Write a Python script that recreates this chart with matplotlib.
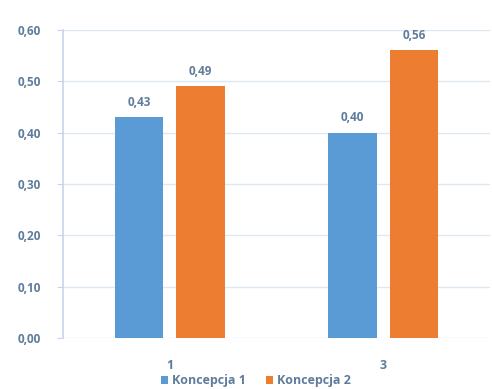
import matplotlib
matplotlib.use("Agg")
import matplotlib.pyplot as plt
import numpy as np

categories = ["1", "3"]
series_names = ["Koncepcja 1", "Koncepcja 2"]
koncepcja1 = [0.43, 0.40]
koncepcja2 = [0.49, 0.56]
yticks = [0.0, 0.1, 0.2, 0.3, 0.4, 0.5, 0.6]

colors = ["#5b9bd5", "#ed7d31"]
text_color = "#5f7c9c"
grid_color = "#dde8f3"

plt.rcParams['font.family'] = ['Open Sans', 'DejaVu Sans']

fig = plt.figure(figsize=(4.92, 3.89), dpi=100)
ax = fig.add_axes([0.128, 0.131, 0.868, 0.792])

x = np.arange(len(categories))
w = 0.225
off = 0.144
b1 = ax.bar(x - off, koncepcja1, w, color=colors[0], label=series_names[0], zorder=3)
b2 = ax.bar(x + off, koncepcja2, w, color=colors[1], label=series_names[1], zorder=3)

for bars, vals in ((b1, koncepcja1), (b2, koncepcja2)):
    for r, v in zip(bars, vals):
        ax.annotate(f"{v:.2f}".replace(".", ","), (r.get_x() + r.get_width() / 2, v),
                    xytext=(0, 6), textcoords="offset points", ha="center", va="bottom",
                    fontsize=8.5, color=text_color, fontweight="bold")

ax.set_xlim(-0.5, 1.5)
ax.set_ylim(0, 0.6)
ax.set_yticks(yticks)
ax.set_yticklabels([f"{t:.2f}".replace(".", ",") for t in yticks])
ax.set_xticks(x)
ax.set_xticklabels(categories)
ax.yaxis.grid(True, color=grid_color, linewidth=1, zorder=0)
for s in ["top", "right", "bottom"]:
    ax.spines[s].set_visible(False)
ax.spines["left"].set_color("#c5d6ea")
ax.spines["left"].set_linewidth(1.2)
ax.tick_params(axis="y", length=4, color="#c5d6ea", labelsize=8.5, labelcolor=text_color, pad=12)
ax.tick_params(axis="x", length=0, labelsize=9, labelcolor=text_color, pad=15)
for lab in ax.get_xticklabels() + ax.get_yticklabels():
    lab.set_fontweight("bold")

leg = fig.legend(loc="lower center", bbox_to_anchor=(0.52, -0.025), ncol=2, frameon=False,
                 fontsize=9, handlelength=0.6, handleheight=0.6, handletextpad=0.3,
                 columnspacing=1.6)
for t in leg.get_texts():
    t.set_color(text_color)
    t.set_fontweight("bold")

fig.savefig("out.png", dpi=100, facecolor="white")
